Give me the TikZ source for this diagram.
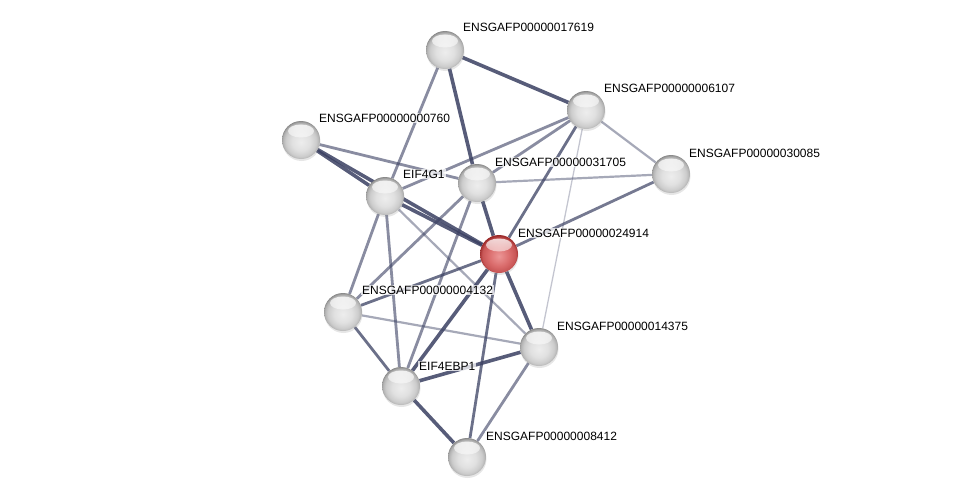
\documentclass[tikz,border=0pt]{standalone}
\usepackage{fontspec}
\setmainfont{Liberation Sans}
\usetikzlibrary{shadows,fadings}
\pgfdeclarelayer{background}
\pgfsetlayers{background,main}
\definecolor{edgecol}{RGB}{58,64,98}
\definecolor{rc0}{RGB}{236,150,150}
\definecolor{rc1}{RGB}{218,108,108}
\definecolor{rc2}{RGB}{200,86,86}
\definecolor{rc3}{RGB}{150,36,36}
\pgfdeclareradialshading{greyball}{\pgfpoint{0bp}{-3bp}}{%
  color(0bp)=(white!93!black); color(12bp)=(white!88!black); color(20bp)=(white!80!black);
  color(24bp)=(white!70!black); color(27.5bp)=(white!48!black); color(50bp)=(white!45!black)}
\pgfdeclareradialshading{redball}{\pgfpoint{0bp}{-3bp}}{%
  color(0bp)=(rc0); color(14bp)=(rc1); color(22bp)=(rc2);
  color(26.5bp)=(rc3); color(50bp)=(rc3)}

\begin{document}
\begin{tikzpicture}[
    x=1pt, y=-1pt,
    prot/.style={circle, minimum size=38pt, inner sep=0pt, shading=greyball,
      drop shadow={shadow xshift=0.5pt, shadow yshift=-2pt, opacity=0.2},
      path picture={\fill[white, opacity=0.85, path fading=south]
        ([yshift=-10pt]path picture bounding box.north) ellipse (13pt and 6.5pt);}},
    query/.style={prot, shading=redball},
    lbl/.style={anchor=base west, font=\fontsize{12}{14}\selectfont, inner sep=1pt,
      fill=white, fill opacity=0.75, text opacity=1},
    strong/.style={draw=edgecol, line width=3.6pt, opacity=0.85},
    mid/.style={draw=edgecol, line width=2.8pt, opacity=0.6},
    weak/.style={draw=edgecol, line width=2.2pt, opacity=0.45},
    faint/.style={draw=edgecol, line width=1.3pt, opacity=0.3}
  ]
    \useasboundingbox (0,0) rectangle (976,503);

    % Proteins
    \node[prot] (p17619) at (445,50) {};
    \node[prot] (p6107) at (586,110) {};
    \node[prot] (p760) at (301,140) {};
    \node[prot] (p30085) at (671,174) {};
    \node[prot] (eif4g1) at (385,196) {};
    \node[prot] (p31705) at (477,183) {};
    \node[query] (p24914) at (499,254) {};
    \node[prot] (p4132) at (343,312) {};
    \node[prot] (p14375) at (539,347) {};
    \node[prot] (eif4ebp1) at (401,386) {};
    \node[prot] (p8412) at (467,457) {};

    % Labels
    \node[lbl] (t17619) at ([xshift=17pt,yshift=18pt]p17619.center) {ENSGAFP00000017619};
    \node[lbl] (t6107) at ([xshift=17pt,yshift=18pt]p6107.center) {ENSGAFP00000006107};
    \node[lbl] (t760) at ([xshift=17pt,yshift=18pt]p760.center) {ENSGAFP00000000760};
    \node[lbl] (t30085) at ([xshift=17pt,yshift=17pt]p30085.center) {ENSGAFP00000030085};
    \node[lbl] (teif4g1) at ([xshift=17pt,yshift=18pt]eif4g1.center) {EIF4G1};
    \node[lbl] (t31705) at ([xshift=17pt,yshift=17pt]p31705.center) {ENSGAFP00000031705};
    \node[lbl] (t24914) at ([xshift=18pt,yshift=17pt]p24914.center) {ENSGAFP00000024914};
    \node[lbl] (t4132) at ([xshift=18pt,yshift=18pt]p4132.center) {ENSGAFP00000004132};
    \node[lbl] (t14375) at ([xshift=17pt,yshift=17pt]p14375.center) {ENSGAFP00000014375};
    \node[lbl] (teif4ebp1) at ([xshift=17pt,yshift=16pt]eif4ebp1.center) {EIF4EBP1};
    \node[lbl] (t8412) at ([xshift=18pt,yshift=17pt]p8412.center) {ENSGAFP00000008412};

    % Interactions
    \begin{pgfonlayer}{background}
    \draw[strong] (p17619) -- (p6107);
    \draw[strong] (p17619) -- (p31705);
    \draw[strong] (p31705) -- (p24914);
    \draw[strong] (p760) -- (eif4g1);
    \draw[strong] (p760) -- (p24914);
    \draw[strong] (eif4g1) -- (p24914);
    \draw[strong] (eif4ebp1) -- (p8412);
    \draw[strong] (p24914) -- (p14375);
    \draw[strong] (p24914) -- (eif4ebp1);
    \draw[strong] (eif4ebp1) -- (p14375);
    \draw[mid, opacity=0.75] (p24914) -- (p8412);
    \draw[mid, opacity=0.75] (p6107) -- (p24914);
    \draw[mid, opacity=0.7] (p24914) -- (p30085);
    \draw[mid, opacity=0.75] (p24914) -- (p4132);
    \draw[mid, opacity=0.75] (p4132) -- (eif4ebp1);
    \draw[mid] (p17619) -- (eif4g1);
    \draw[mid] (p6107) -- (eif4g1);
    \draw[mid] (p6107) -- (p31705);
    \draw[mid] (p760) -- (p31705);
    \draw[mid] (p31705) -- (p4132);
    \draw[mid] (eif4g1) -- (p4132);
    \draw[mid] (eif4g1) -- (eif4ebp1);
    \draw[mid] (p14375) -- (p8412);
    \draw[mid] (p31705) -- (eif4ebp1);
    \draw[weak] (eif4g1) -- (p14375);
    \draw[weak] (p6107) -- (p30085);
    \draw[weak] (p31705) -- (p30085);
    \draw[weak] (p4132) -- (p14375);
    \draw[faint] (p6107) -- (p14375);
    \end{pgfonlayer}
\end{tikzpicture}
\end{document}
